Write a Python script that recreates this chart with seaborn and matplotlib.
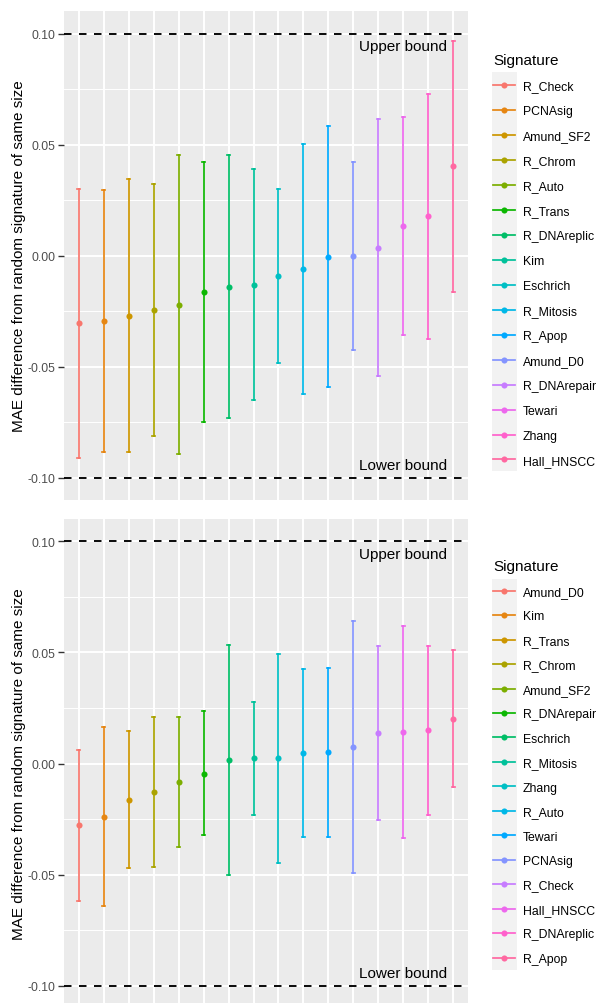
import numpy as np
import pandas as pd
import matplotlib
matplotlib.use('Agg')
import matplotlib.pyplot as plt
from matplotlib.lines import Line2D
from matplotlib.patches import Rectangle
import seaborn as sns

# panel 1 (top)
sig_top = ['R_Check', 'PCNAsig', 'Amund_SF2', 'R_Chrom', 'R_Auto', 'R_Trans', 'R_DNAreplic', 'Kim',
           'Eschrich', 'R_Mitosis', 'R_Apop', 'Amund_D0', 'R_DNArepair', 'Tewari', 'Zhang', 'Hall_HNSCC']
mid_top = [-0.0305, -0.0295, -0.0271, -0.0245, -0.0221, -0.0165, -0.0143, -0.0131,
           -0.0093, -0.0060, -0.0008, -0.0003, 0.0035, 0.0131, 0.0177, 0.0402]
lo_top = [-0.0913, -0.0883, -0.0887, -0.0812, -0.0895, -0.0752, -0.0734, -0.0650,
          -0.0484, -0.0624, -0.0594, -0.0424, -0.0544, -0.0358, -0.0376, -0.0165]
hi_top = [0.0299, 0.0293, 0.0346, 0.0323, 0.0454, 0.0421, 0.0451, 0.0388,
          0.0298, 0.0504, 0.0582, 0.0421, 0.0614, 0.0623, 0.0729, 0.0967]

# panel 2 (bottom)
sig_bot = ['Amund_D0', 'Kim', 'R_Trans', 'R_Chrom', 'Amund_SF2', 'R_DNArepair', 'Eschrich', 'R_Mitosis',
           'Zhang', 'R_Auto', 'Tewari', 'PCNAsig', 'R_Check', 'Hall_HNSCC', 'R_DNAreplic', 'R_Apop']
mid_bot = [-0.0278, -0.0240, -0.0164, -0.0129, -0.0084, -0.0047, 0.0015, 0.0023,
           0.0023, 0.0047, 0.0050, 0.0072, 0.0137, 0.0140, 0.0152, 0.0201]
lo_bot = [-0.0619, -0.0642, -0.0469, -0.0466, -0.0374, -0.0323, -0.0503, -0.0230,
          -0.0446, -0.0332, -0.0329, -0.0494, -0.0254, -0.0335, -0.0230, -0.0105]
hi_bot = [0.0062, 0.0162, 0.0144, 0.0209, 0.0209, 0.0234, 0.0535, 0.0276,
          0.0491, 0.0425, 0.0430, 0.0639, 0.0529, 0.0618, 0.0530, 0.0509]

bounds = [0.1, -0.1]
bound_labels = ['Upper bound', 'Lower bound']
y_ticks = [-0.10, -0.05, 0.00, 0.05, 0.10]
y_ticklabels = ['-0.10', '-0.05', '0.00', '0.05', '0.10']


def hue_pal(n, l=65, c=100):
    # ggplot2 default discrete palette (HCL -> sRGB)
    hues = np.linspace(15, 375, n + 1)[:n]
    Xn, Yn, Zn = 95.047, 100.0, 108.883
    un = 4 * Xn / (Xn + 15 * Yn + 3 * Zn)
    vn = 9 * Yn / (Xn + 15 * Yn + 3 * Zn)
    out = []
    for h in hues:
        u = c * np.cos(np.radians(h))
        v = c * np.sin(np.radians(h))
        Y = Yn * ((l + 16) / 116) ** 3
        up = u / (13 * l) + un
        vp = v / (13 * l) + vn
        X = 9.0 * Y * up / (4 * vp)
        Z = -X / 3 - 5 * Y + 3 * Y / vp
        X, Y, Z = X / 100, Y / 100, Z / 100
        rgb = [3.240479 * X - 1.537150 * Y - 0.498535 * Z,
               -0.969256 * X + 1.875992 * Y + 0.041556 * Z,
               0.055648 * X - 0.204043 * Y + 1.057311 * Z]
        rgb = [12.92 * ch if ch <= 0.0031308 else 1.055 * ch ** (1 / 2.4) - 0.055 for ch in rgb]
        out.append(tuple(min(max(ch, 0), 1) for ch in rgb))
    return out


plt.rcParams['font.family'] = ['Liberation Sans', 'DejaVu Sans']

W, H = 598, 1004
fig = plt.figure(figsize=(W / 100, H / 100), dpi=100)
colors = hue_pal(16)


def px_box(left, top, right, bottom):
    return [left / W, 1 - bottom / H, (right - left) / W, (bottom - top) / H]


panels = [
    (sig_top, mid_top, lo_top, hi_top, px_box(64, 12.3, 468, 500.7), (492, 73, 472), 52, 1.06),
    (sig_bot, mid_bot, lo_bot, hi_bot, px_box(64, 520, 468, 1009), (492, 580, 971), 558, 1.02),
]

for names, mid, lo, hi, box, keybox, leg_top, spacing in panels:
    ax = fig.add_axes(box)
    ax.set_facecolor('#EBEBEB')
    long = pd.DataFrame({
        'Signature': np.repeat(names, 3),
        'value': np.column_stack([lo, mid, hi]).ravel(),
    })
    for yv in [-0.075, -0.025, 0.025, 0.075]:
        ax.axhline(yv, color='white', linewidth=0.7, zorder=0)
    for yv in y_ticks:
        ax.axhline(yv, color='white', linewidth=1.4, zorder=0)
    for xi in range(len(names)):
        ax.axvline(xi, color='white', linewidth=1.4, zorder=0)

    sns.pointplot(data=long, x='Signature', y='value', hue='Signature',
                  order=names, hue_order=names, palette=colors,
                  estimator='median', errorbar=lambda v: (v.min(), v.max()),
                  capsize=0.12, linestyle='none', markers='o', markersize=4.4,
                  markeredgewidth=0, err_kws={'linewidth': 1.25},
                  legend=False, ax=ax)

    for yb, lab in zip(bounds, bound_labels):
        ax.axhline(yb, color='black', linewidth=1.35, linestyle=(0, (4, 4)), zorder=3)
        ax.text(13, yb * 0.943, lab, ha='center', va='center', fontsize=11, color='black')

    ax.set_xlim(-0.6, len(names) - 0.4)
    ax.set_ylim(-0.11, 0.11)
    ax.set_yticks(y_ticks)
    ax.set_yticklabels(y_ticklabels)
    ax.tick_params(axis='y', length=4, width=1, color='#333333', labelcolor='#4D4D4D',
                   labelsize=8.8, pad=2)
    ax.tick_params(axis='x', length=0, labelbottom=False)
    ax.set_xlabel(None)
    ax.set_ylabel('MAE difference from random signature of same size', fontsize=11, labelpad=1)
    for s in ax.spines.values():
        s.set_visible(False)

    # legend key background column
    kx, ky0, ky1 = keybox
    fig.patches.append(Rectangle((kx / W, 1 - ky1 / H), 25 / W, (ky1 - ky0) / H,
                                 transform=fig.transFigure, facecolor='#F2F2F2',
                                 edgecolor='none', zorder=-1))
    handles = [Line2D([], [], color=c, marker='o', markersize=4.4, markeredgewidth=0, linewidth=1.25)
               for c in colors]
    ax.legend(handles, names, title='Signature', loc='upper left',
              bbox_to_anchor=(491 / W, 1 - leg_top / H), bbox_transform=fig.transFigure,
              frameon=False, fontsize=8.8, title_fontsize=11, handlelength=1.8,
              handletextpad=0.6, labelspacing=spacing, borderaxespad=0, borderpad=0.2,
              alignment='left')

fig.savefig('out.png', dpi=100)
